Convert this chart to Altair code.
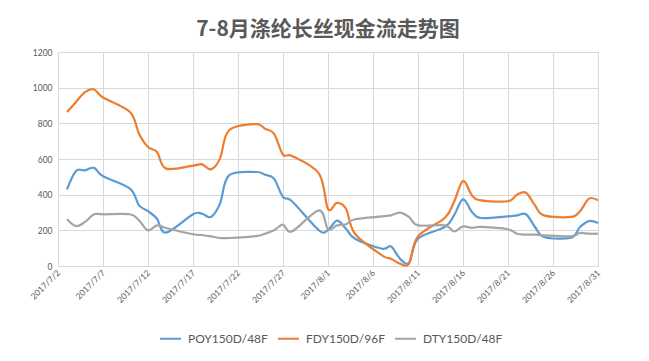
import altair as alt
import pandas as pd

# Trading days (weekdays) July-August 2017
dates = [
    "2017-07-03", "2017-07-04", "2017-07-05", "2017-07-06", "2017-07-07",
    "2017-07-10", "2017-07-11", "2017-07-12", "2017-07-13", "2017-07-14",
    "2017-07-17", "2017-07-18", "2017-07-19", "2017-07-20", "2017-07-21",
    "2017-07-24", "2017-07-25", "2017-07-26", "2017-07-27", "2017-07-28",
    "2017-07-31", "2017-08-01", "2017-08-02", "2017-08-03", "2017-08-04",
    "2017-08-07", "2017-08-08", "2017-08-09", "2017-08-10", "2017-08-11",
    "2017-08-14", "2017-08-15", "2017-08-16", "2017-08-17", "2017-08-18",
    "2017-08-21", "2017-08-22", "2017-08-23", "2017-08-24", "2017-08-25",
    "2017-08-28", "2017-08-29", "2017-08-30", "2017-08-31",
]
poy = [430, 533, 536, 550, 503, 434, 340, 308, 265, 187,
       290, 293, 275, 350, 508, 527, 512, 490, 387, 363,
       200, 202, 254, 209, 153, 97, 110, 41, 19, 153,
       219, 284, 374, 303, 269, 278, 284, 290, 219, 163,
       159, 219, 252, 241]
fdy = [863, 920, 975, 990, 945, 863, 742, 667, 639, 546,
       563, 570, 542, 602, 761, 796, 770, 742, 624, 617,
       518, 320, 354, 321, 181, 60, 41, 13, 13, 166,
       271, 359, 477, 396, 368, 363, 400, 411, 340, 284,
       275, 307, 378, 368]
dty = [262, 224, 247, 290, 290, 290, 256, 200, 228, 213,
       178, 174, 166, 157, 157, 168, 181, 200, 232, 194,
       312, 206, 228, 234, 262, 278, 284, 299, 275, 228,
       228, 194, 222, 214, 219, 206, 181, 176, 176, 172,
       166, 185, 181, 181]

series_names = ["POY150D/48F", "FDY150D/96F", "DTY150D/48F"]
series_colors = ["#5B9BD5", "#ED7D31", "#A5A5A5"]
tick_labels = ["2017/7/2", "2017/7/7", "2017/7/12", "2017/7/17", "2017/7/22",
               "2017/7/27", "2017/8/1", "2017/8/6", "2017/8/11", "2017/8/16",
               "2017/8/21", "2017/8/26", "2017/8/31"]
y_ticks = [0, 200, 400, 600, 800, 1000, 1200]
title_text = "7-8月涤纶长丝现金流走势图"

rows = []
for name, vals in zip(series_names, [poy, fdy, dty]):
    for d, v in zip(dates, vals):
        rows.append({"date": d, "series": name, "value": v})
df = pd.DataFrame(rows)


def to_dt(s):
    y, m, d = [int(p) for p in s.split("/")]
    return alt.DateTime(year=y, month=m, date=d, utc=True)


tick_values = [to_dt(s) for s in tick_labels]

font = "Lato"
label_color = "#595959"
grid_color = "#D9D9D9"

chart = alt.Chart(df).mark_line(
    interpolate="cardinal", strokeWidth=2.2
).encode(
    x=alt.X(
        "date:T",
        scale=alt.Scale(type="utc", domain=[tick_values[0], tick_values[-1]]),
        axis=alt.Axis(
            title=None,
            values=tick_values,
            labelExpr="utcFormat(datum.value, '%Y/%-m/%-d')",
            labelAngle=-45,
            labelAlign="right",
            labelBaseline="middle",
            labelPadding=5,
            labelFont=font,
            labelFontSize=8.5,
            labelColor=label_color,
            ticks=False,
            domainColor=grid_color,
            gridColor=grid_color,
            labelOverlap=False,
            labelFlush=False,
        ),
    ),
    y=alt.Y(
        "value:Q",
        scale=alt.Scale(domain=[0, 1200], nice=False),
        axis=alt.Axis(
            title=None,
            values=y_ticks,
            format="d",
            labelFont=font,
            labelFontSize=8.5,
            labelColor=label_color,
            labelPadding=6,
            ticks=False,
            domain=False,
            gridColor=grid_color,
        ),
    ),
    color=alt.Color(
        "series:N",
        scale=alt.Scale(domain=series_names, range=series_colors),
        sort=series_names,
        legend=alt.Legend(
            title=None,
            orient="none",
            legendX=101,
            legendY=275,
            direction="horizontal",
            symbolType="stroke",
            symbolSize=441,
            symbolStrokeWidth=2,
            labelFont=font,
            labelFontSize=12,
            labelColor=label_color,
            labelOffset=6,
            columnPadding=6,
        ),
    ),
).properties(
    width=540,
    height=214,
    title=alt.TitleParams(
        text=title_text,
        font="Noto Sans CJK SC",
        fontSize=21,
        fontWeight="bold",
        color="#595959",
        anchor="middle",
        offset=8,
    ),
    autosize=alt.AutoSizeParams(type="none"),
    padding={"left": 50, "top": 44, "right": 43, "bottom": 92},
).configure_view(
    stroke=None
).configure(
    background="white"
)

chart.save("out.html", embed_options={"renderer": "svg", "actions": False})
